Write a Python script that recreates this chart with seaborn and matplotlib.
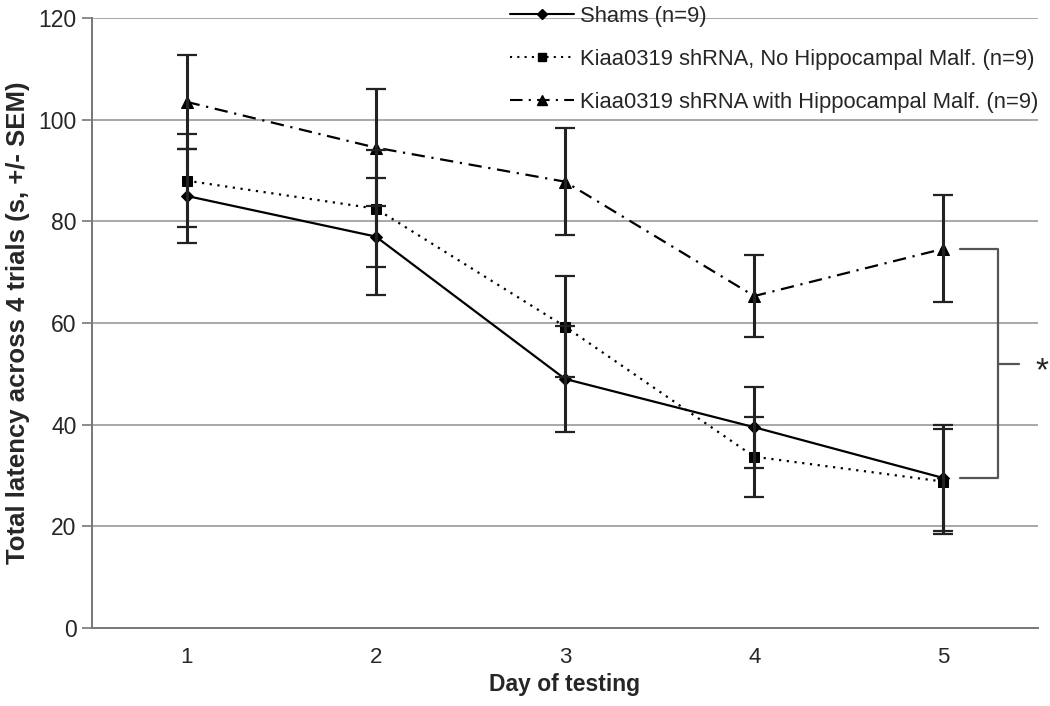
import numpy as np
import pandas as pd
import seaborn as sns
import matplotlib.pyplot as plt
from matplotlib.lines import Line2D

days = [1, 2, 3, 4, 5]
groups = ["Shams (n=9)",
          "Kiaa0319 shRNA, No Hippocampal Malf. (n=9)",
          "Kiaa0319 shRNA with Hippocampal Malf. (n=9)"]
shams = [85, 77, 49, 39.5, 29.5]
shams_sem = [9.3, 11.5, 10.5, 8, 10.5]
no_malf = [88, 82.5, 59.3, 33.7, 28.8]
no_malf_sem = [9.2, 11.5, 10, 7.9, 10.3]
with_malf = [103.5, 94.5, 87.8, 65.3, 74.6]
with_malf_sem = [9.3, 11.5, 10.5, 8, 10.5]

sns.set_style("white")
plt.rcParams['font.family'] = ['Liberation Sans', 'DejaVu Sans']

df = pd.DataFrame({
    "day": days * 3,
    "latency": shams + no_malf + with_malf,
    "group": [groups[0]] * 5 + [groups[1]] * 5 + [groups[2]] * 5,
})

fig = plt.figure(figsize=(10.5, 7.06), dpi=100)
ax = fig.add_axes([92 / 1050, 1 - 628 / 706, (1038 - 92) / 1050, (628 - 18) / 706])

for y in range(20, 121, 20):
    ax.axhline(y, color="#9a9a9a", lw=1.2, zorder=0)

styles = ["-", (0, (1, 2.5)), (0, (6, 3, 1, 3))]
markers = ["D", "s", "^"]
msizes = [6, 7, 8]
sems = [shams_sem, no_malf_sem, with_malf_sem]
vals = [shams, no_malf, with_malf]

for g, ls, m, ms in zip(groups, styles, markers, msizes):
    sns.lineplot(data=df[df["group"] == g], x="day", y="latency", ax=ax,
                 color="black", linestyle=ls, lw=1.6, marker=m, markersize=ms,
                 markeredgecolor="black", legend=False, zorder=3)

for v, s in zip(vals, sems):
    ax.errorbar(days, v, yerr=s, fmt="none", ecolor="#222222", elinewidth=2.2,
                capsize=7, capthick=1.6, zorder=4)

# significance bracket at day 5
ax.plot([5.09, 5.29, 5.29, 5.09], [74.6, 74.6, 29.5, 29.5], color="#555555", lw=1.6, clip_on=False)
ax.plot([5.29, 5.40], [52, 52], color="#555555", lw=1.6, clip_on=False)
ax.text(5.52, 50.5, "*", fontsize=24, ha="center", va="center", clip_on=False)

ax.set_xlim(0.5, 5.5)
ax.set_ylim(0, 120)
ax.set_xticks(days)
ax.set_xticks(np.arange(0.5, 5.6, 1), minor=True)
ax.tick_params(axis="x", which="major", length=0, pad=14, labelsize=16)
ax.tick_params(axis="x", which="minor", length=6, color="#777777", width=1.2)
ax.set_yticks(range(0, 121, 20))
ax.tick_params(axis="y", length=7, color="#777777", width=1.2, labelsize=16.5, pad=4, left=True)

for sp in ["top", "right"]:
    ax.spines[sp].set_visible(False)
for sp in ["left", "bottom"]:
    ax.spines[sp].set_color("#777777")
    ax.spines[sp].set_linewidth(1.4)

ax.set_xlabel("Day of testing", fontsize=16.5, fontweight="bold", labelpad=3)
ax.set_ylabel("Total latency across 4 trials (s, +/- SEM)", fontsize=18.5, fontweight="bold", labelpad=6)

handles = [Line2D([], [], color="black", linestyle=ls, lw=1.5, marker=m, markersize=ms - 1)
           for ls, m, ms in zip(styles, markers, msizes)]
fig.legend(handles, groups, loc="upper left", bbox_to_anchor=(510 / 1050, 1 - 6 / 706),
           frameon=False, fontsize=15.8, handlelength=2.9, handletextpad=0.3,
           labelspacing=1.0, borderpad=0, borderaxespad=0)

fig.savefig("out.png", dpi=100)
